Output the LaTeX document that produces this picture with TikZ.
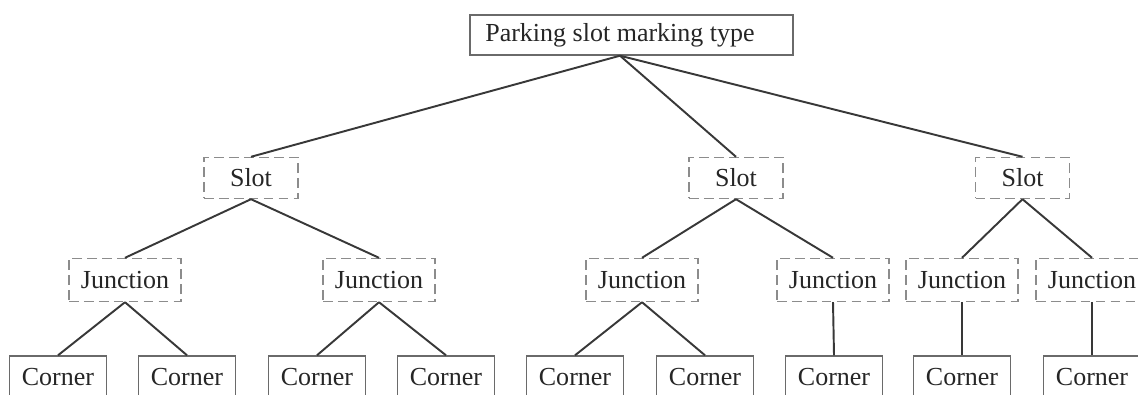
\documentclass[tikz,border=0pt]{standalone}
\usepackage{fontspec}
\setmainfont{Liberation Serif}
\usepackage{xcolor}
\usetikzlibrary{positioning,calc}
\definecolor{boxline}{HTML}{6a6a6a}
\definecolor{dashline}{HTML}{8c8c8c}
\definecolor{linkcol}{HTML}{383838}
\definecolor{txtcol}{HTML}{262626}

\begin{document}
\begin{tikzpicture}[
    solidbox/.style={draw=boxline, line width=0.8pt, text=txtcol, inner sep=0pt},
    dashbox/.style={draw=dashline, line width=0.8pt, dash pattern=on 5.5pt off 3pt, text=txtcol, inner sep=0pt},
    link/.style={draw=linkcol, line width=1.1pt},
    font=\fontsize{14.8}{17}\selectfont]
  \useasboundingbox (0,0) rectangle (22.76,7.88);
  \clip (0,0) rectangle (22.76,7.88);

  % Root
  \node[solidbox, minimum width=6.46cm, minimum height=0.8cm] (root) at (12.63, 7.18) {Parking slot marking type\hspace*{0.46cm}};
  \coordinate (apex) at ($(root.south)+(-0.23,0)$);

  % Slots
  \node[dashbox, minimum width=1.88cm, minimum height=0.82cm] (slotA) at (5.02, 4.32) {Slot};
  \node[dashbox, minimum width=1.88cm, minimum height=0.82cm] (slotB) at (14.72, 4.32) {Slot};
  \node[dashbox, minimum width=1.88cm, minimum height=0.82cm] (slotC) at (20.45, 4.32) {Slot};

  \draw[link] (apex) -- (slotA.north);
  \draw[link] (apex) -- (slotB.north);
  \draw[link] (apex) -- (slotC.north);

  % Junctions
  \node[dashbox, minimum width=2.24cm, minimum height=0.86cm] (juncA) at (2.50, 2.28) {Junction};
  \node[dashbox, minimum width=2.24cm, minimum height=0.86cm] (juncB) at (7.58, 2.28) {Junction};
  \node[dashbox, minimum width=2.24cm, minimum height=0.86cm] (juncC) at (12.84, 2.28) {Junction};
  \node[dashbox, minimum width=2.24cm, minimum height=0.86cm] (juncD) at (16.66, 2.28) {Junction};
  \node[dashbox, minimum width=2.24cm, minimum height=0.86cm] (juncE) at (19.24, 2.28) {Junction};
  \node[dashbox, minimum width=2.24cm, minimum height=0.86cm] (juncF) at (21.84, 2.28) {Junction};

  \draw[link] (slotA.south) -- (juncA.north);
  \draw[link] (slotA.south) -- (juncB.north);
  \draw[link] (slotB.south) -- (juncC.north);
  \draw[link] (slotB.south) -- (juncD.north);
  \draw[link] (slotC.south) -- (juncE.north);
  \draw[link] (slotC.south) -- (juncF.north);

  % Corners
  \node[solidbox, minimum width=1.94cm, minimum height=0.84cm] (cornA) at (1.16, 0.34) {Corner};
  \node[solidbox, minimum width=1.94cm, minimum height=0.84cm] (cornB) at (3.74, 0.34) {Corner};
  \node[solidbox, minimum width=1.94cm, minimum height=0.84cm] (cornC) at (6.34, 0.34) {Corner};
  \node[solidbox, minimum width=1.94cm, minimum height=0.84cm] (cornD) at (8.92, 0.34) {Corner};
  \node[solidbox, minimum width=1.94cm, minimum height=0.84cm] (cornE) at (11.50, 0.34) {Corner};
  \node[solidbox, minimum width=1.94cm, minimum height=0.84cm] (cornF) at (14.10, 0.34) {Corner};
  \node[solidbox, minimum width=1.94cm, minimum height=0.84cm] (cornG) at (16.68, 0.34) {Corner};
  \node[solidbox, minimum width=1.94cm, minimum height=0.84cm] (cornH) at (19.24, 0.34) {Corner};
  \node[solidbox, minimum width=1.94cm, minimum height=0.84cm] (cornI) at (21.84, 0.34) {Corner};

  \draw[link] (juncA.south) -- (cornA.north);
  \draw[link] (juncA.south) -- (cornB.north);
  \draw[link] (juncB.south) -- (cornC.north);
  \draw[link] (juncB.south) -- (cornD.north);
  \draw[link] (juncC.south) -- (cornE.north);
  \draw[link] (juncC.south) -- (cornF.north);
  \draw[link] (juncD.south) -- (cornG.north);
  \draw[link] (juncE.south) -- (cornH.north);
  \draw[link] (juncF.south) -- (cornI.north);
\end{tikzpicture}
\end{document}
